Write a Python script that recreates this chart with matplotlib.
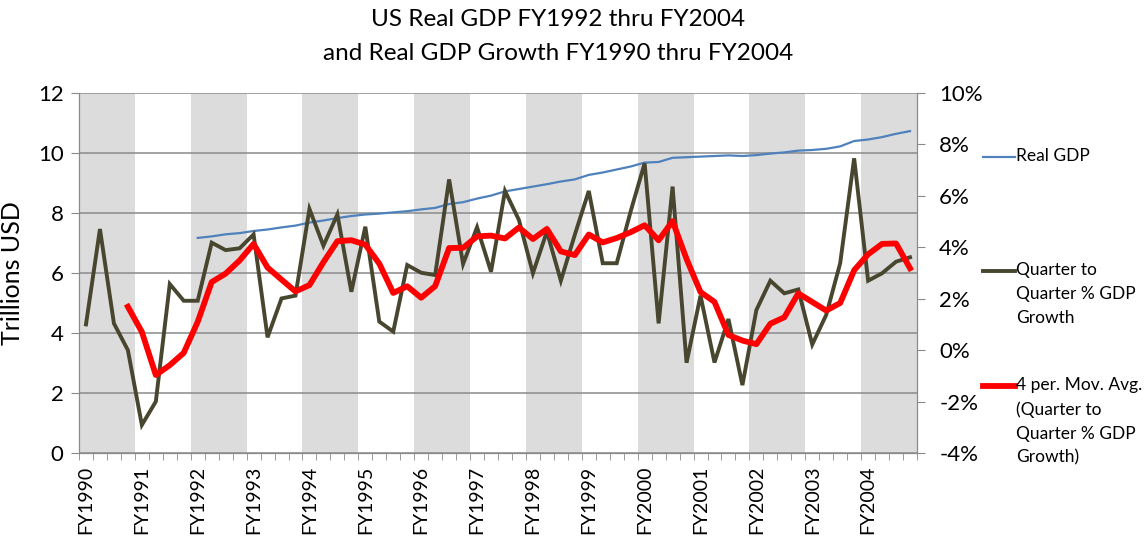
import numpy as np
import pandas as pd
import matplotlib
matplotlib.use("Agg")
import matplotlib.pyplot as plt
from matplotlib.lines import Line2D
from matplotlib.ticker import FuncFormatter, MultipleLocator

plt.rcParams['font.family'] = ['Lato', 'DejaVu Sans']

# fiscal years, 4 quarters each
years = ["FY%d" % y for y in range(1990, 2005)]

# quarter to quarter % GDP growth (right axis, %)
growth = [1.00, 4.71, 1.04, 0.00, -2.91, -2.00, 2.57, 1.92,
          1.92, 4.18, 3.89, 3.96, 4.50, 0.50, 2.01, 2.12,
          5.49, 4.06, 5.28, 2.27, 4.80, 1.11, 0.72, 3.31,
          3.01, 2.92, 6.64, 3.35, 4.78, 3.05, 6.19, 5.06,
          2.99, 4.61, 2.70, 4.49, 6.19, 3.38, 3.38, 5.40,
          7.27, 1.04, 6.36, -0.49, 2.12, -0.48, 1.21, -1.36,
          1.56, 2.70, 2.21, 2.36, 0.22, 1.37, 3.38, 7.46,
          2.70, 2.99, 3.44, 3.61]

# real GDP, trillions USD (left axis), starts FY1992 Q1
gdp = [np.nan] * 8 + [
    7.17, 7.22, 7.29, 7.33, 7.40, 7.45, 7.52, 7.58,
    7.68, 7.75, 7.83, 7.90, 7.95, 7.98, 8.02, 8.06,
    8.12, 8.17, 8.30, 8.36, 8.48, 8.58, 8.72, 8.80,
    8.88, 8.96, 9.05, 9.12, 9.27, 9.35, 9.45, 9.55,
    9.68, 9.70, 9.84, 9.86, 9.88, 9.90, 9.92, 9.90,
    9.93, 9.98, 10.02, 10.08, 10.10, 10.14, 10.22, 10.40,
    10.45, 10.53, 10.64, 10.73]

n = len(growth)
x = np.arange(n)
mov_avg = pd.Series(growth).rolling(4).mean()   # excel 4 period trendline

fig = plt.figure(figsize=(11.44, 5.44), dpi=100)
ax = fig.add_axes([79/1144, 1-453/544, (917-79)/1144, (453-93)/544])
ax2 = ax.twinx()

# alternating year shading
for j in range(0, len(years), 2):
    ax.axvspan(4*j - 0.5, 4*j + 3.5, color="#dcdcdc", lw=0, zorder=0.2)

ax.set_axisbelow(True)
ax.grid(axis="y", color="#8a8a8a", lw=1.1)
ax.plot(x, gdp, color="#4f81bd", lw=1.6, zorder=3)

ax2.plot(x, growth, color="#48462f", lw=2.8, solid_joinstyle="miter")
ax2.plot(x, mov_avg, color="#ff0000", lw=4.2, solid_joinstyle="round")

ax.set_xlim(-0.5, n - 0.5)
ax.set_ylim(0, 12)
ax2.set_ylim(-4, 10)
ax.yaxis.set_major_locator(MultipleLocator(2))
ax2.yaxis.set_major_locator(MultipleLocator(2))
ax2.yaxis.set_major_formatter(FuncFormatter(lambda v, p: "%d%%" % round(v)))

ax.set_xticks(np.arange(0, n, 4))
ax.set_xticklabels(years, rotation=90, fontsize=14)
ax.set_xticks(np.arange(-0.5, n, 1), minor=True)
ax.tick_params(axis="x", which="major", length=0, pad=9)
ax.tick_params(axis="x", which="minor", length=5, color="#8a8a8a", direction="out")
ax.tick_params(axis="y", length=6, color="#8a8a8a", labelsize=16, pad=5)
ax2.tick_params(axis="y", length=6, color="#8a8a8a", labelsize=16, pad=10)

for a in (ax, ax2):
    for s in a.spines.values():
        s.set_color("#8a8a8a")
    a.spines["top"].set_visible(False)

ax.set_ylabel("Trillions USD", fontsize=18, labelpad=10)

fig.text(558/1144, 1-19/544, "US Real GDP FY1992 thru FY2004", ha="center", va="center", fontsize=17.5)
fig.text(558/1144, 1-53/544, "and Real GDP Growth FY1990 thru FY2004", ha="center", va="center", fontsize=17.5)

# legend, excel style (key line level with first text line)
entries = [("Real GDP", "#4f81bd", 1.6, 157),
           ("Quarter to\nQuarter % GDP\nGrowth", "#48462f", 2.8, 271),
           ("4 per. Mov. Avg.\n(Quarter to\nQuarter % GDP\nGrowth)", "#ff0000", 4.2, 386)]
for label, col, lw, yc in entries:
    yf = 1 - yc/544
    fig.add_artist(Line2D([983/1144, 1015/1144], [yf, yf], color=col, lw=lw, transform=fig.transFigure))
    fig.text(1016/1144, 1 - (yc - 9)/544, label, ha="left", va="top", fontsize=12.5, linespacing=1.6)

fig.savefig("out.png", dpi=100)
